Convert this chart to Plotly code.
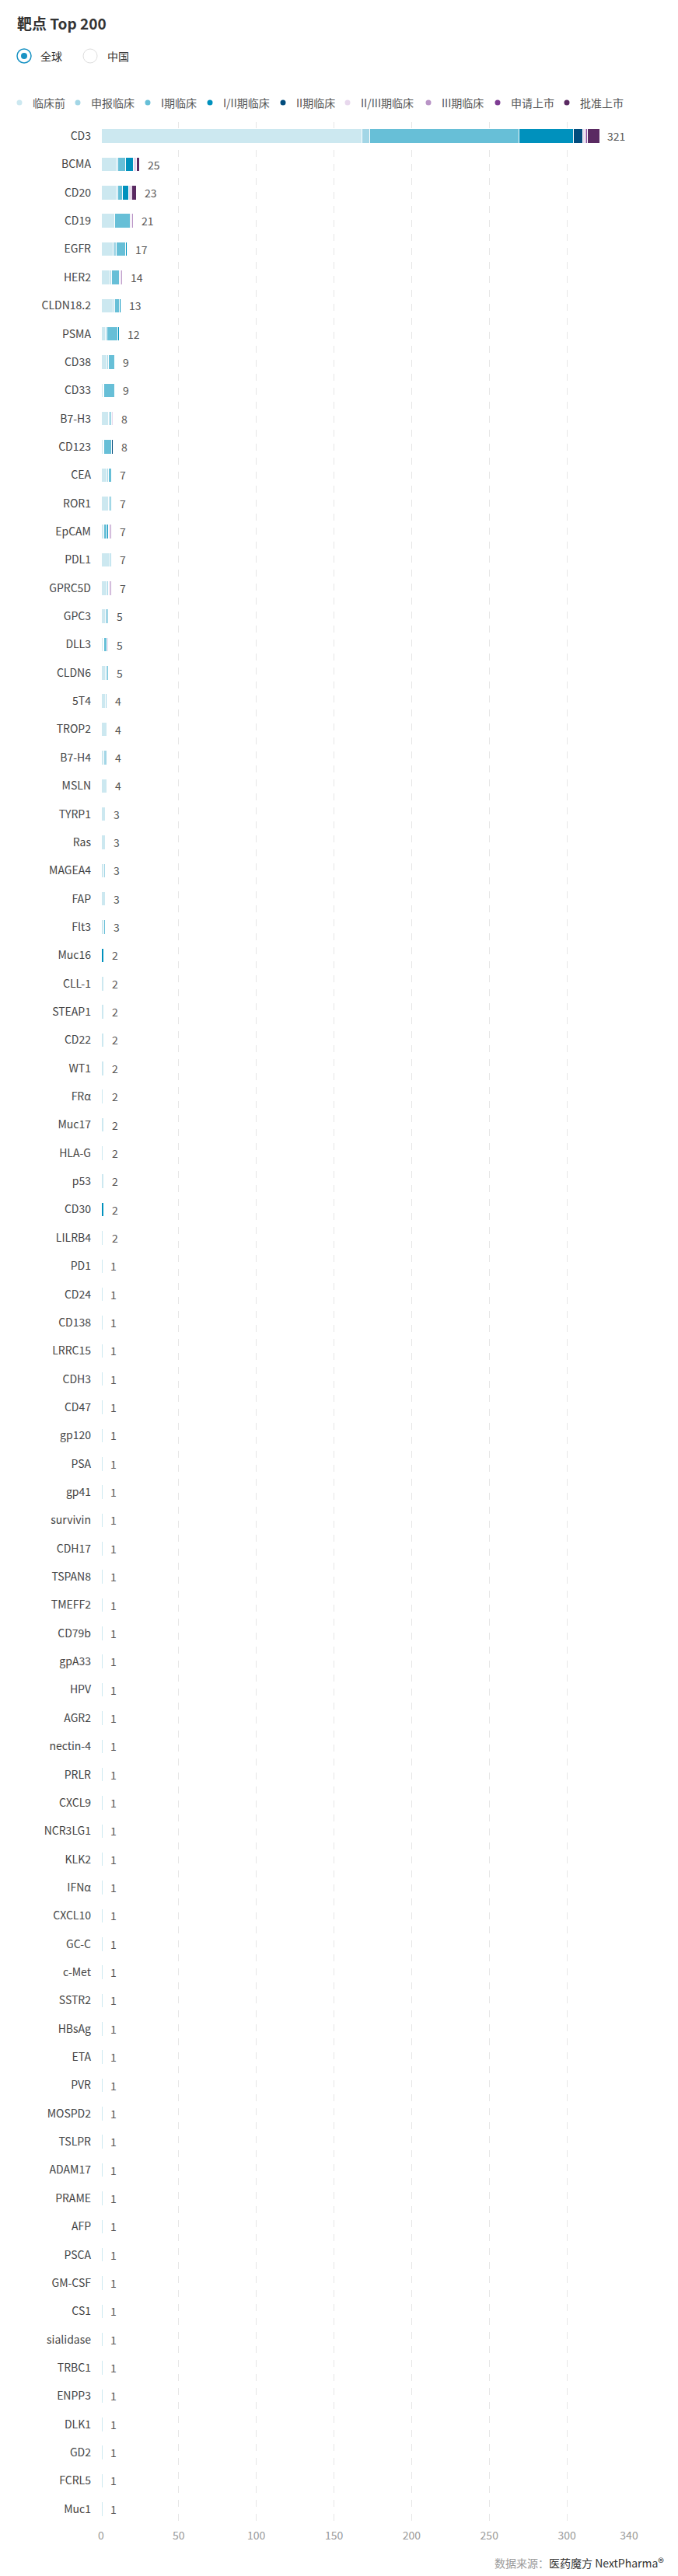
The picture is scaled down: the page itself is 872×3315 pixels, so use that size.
import plotly.graph_objects as go

# targets, top to bottom
targets = ["CD3", "BCMA", "CD20", "CD19", "EGFR", "HER2", "CLDN18.2", "PSMA", "CD38", "CD33",
           "B7-H3", "CD123", "CEA", "ROR1", "EpCAM", "PDL1", "GPRC5D", "GPC3", "DLL3", "CLDN6",
           "5T4", "TROP2", "B7-H4", "MSLN", "TYRP1", "Ras", "MAGEA4", "FAP", "Flt3", "Muc16",
           "CLL-1", "STEAP1", "CD22", "WT1", "FRα", "Muc17", "HLA-G", "p53", "CD30", "LILRB4",
           "PD1", "CD24", "CD138", "LRRC15", "CDH3", "CD47", "gp120", "PSA", "gp41", "survivin",
           "CDH17", "TSPAN8", "TMEFF2", "CD79b", "gpA33", "HPV", "AGR2", "nectin-4", "PRLR", "CXCL9",
           "NCR3LG1", "KLK2", "IFNα", "CXCL10", "GC-C", "c-Met", "SSTR2", "HBsAg", "ETA", "PVR",
           "MOSPD2", "TSLPR", "ADAM17", "PRAME", "AFP", "PSCA", "GM-CSF", "CS1", "sialidase", "TRBC1",
           "ENPP3", "DLK1", "GD2", "FCRL5", "Muc1"]

stages = ["临床前", "申报临床", "I期临床", "I/II期临床", "II期临床",
          "II/III期临床", "III期临床", "申请上市", "批准上市"]
stage_colors = ["#cce8f0", "#a3d6e6", "#67bfd7", "#0091bd", "#024c7d",
                "#e8d8ed", "#b994c6", "#7e3c93", "#5a2a62"]

n_ones = 45  # PD1 ... Muc1 all have a single compound

preclinical = [168, 10, 10, 9, 8, 6, 8, 3, 4, 1,
               5, 1, 4, 5, 2, 6, 4, 3, 1, 3,
               3, 4, 2, 4, 3, 3, 2, 3, 2, 0,
               2, 2, 2, 2, 1, 2, 1, 2, 0, 1] + [1] * n_ones
ind_filed = [5, 1, 1, 0, 2, 1, 1, 1, 1, 1,
             1, 1, 1, 1, 0, 1, 1, 2, 1, 1,
             1, 0, 2, 0, 0, 0, 1, 0, 0, 0,
             0, 0, 0, 0, 1, 0, 1, 0, 0, 1] + [0] * n_ones
phase1 = [96, 5, 3, 10, 6, 5, 3, 7, 4, 7,
          1, 5, 2, 1, 2, 0, 0, 0, 2, 1,
          0, 0, 0, 0, 0, 0, 0, 0, 1, 0,
          0, 0, 0, 0, 0, 0, 0, 0, 0, 0] + [0] * n_ones
phase12 = [35, 5, 4, 0, 1, 0, 1, 1, 0, 0,
           0, 0, 0, 0, 1, 0, 0, 0, 0, 0,
           0, 0, 0, 0, 0, 0, 0, 0, 0, 2,
           0, 0, 0, 0, 0, 0, 0, 0, 2, 0] + [0] * n_ones
phase2 = [6, 0, 0, 0, 0, 0, 0, 0, 0, 0,
          0, 1, 0, 0, 0, 0, 0, 0, 0, 0] + [0] * 20 + [0] * n_ones
phase23 = [1, 2, 1, 1, 0, 1, 0, 0, 0, 0,
           1, 0, 0, 0, 1, 0, 1, 0, 1, 0] + [0] * 20 + [0] * n_ones
phase3 = [1, 0, 1, 1, 0, 1, 0, 0, 0, 0,
          0, 0, 0, 0, 1, 0, 1, 0, 0, 0] + [0] * 20 + [0] * n_ones
nda_filed = [1] + [0] * 39 + [0] * n_ones
approved = [8, 2, 3] + [0] * 37 + [0] * n_ones

series = [preclinical, ind_filed, phase1, phase12, phase2, phase23, phase3, nda_filed, approved]
totals = [sum(v) for v in zip(*series)]

# figure geometry in pixels
W, H = 872, 3315
L, R, T, B = 130, 63, 157, 68
pw, ph = W - L - R, H - T - B


def px(x):
    return (x - L) / pw


def py(y):
    return (H - B - y) / ph


fig = go.Figure()
for name, vals, col in zip(stages, series, stage_colors):
    fig.add_trace(go.Bar(y=targets, x=vals, name=name, orientation="h",
                         marker=dict(color=col, line=dict(color="white", width=1)),
                         showlegend=False))

# totals at bar ends
for t, tot in zip(targets, totals):
    fig.add_annotation(x=tot, y=t, text=str(tot), showarrow=False, xanchor="left",
                       xshift=8, font=dict(size=14, color="#555"))

# title
fig.add_annotation(x=px(20), y=py(30), xref="paper", yref="paper", text="<b>靶点 Top 200</b>",
                   showarrow=False, xanchor="left", yanchor="middle",
                   font=dict(size=19, color="#333"))

# radio buttons 全球 / 中国
shapes = []
shapes.append(dict(type="circle", xref="paper", yref="paper", xsizemode="pixel", ysizemode="pixel",
                   xanchor=px(31), yanchor=py(72), x0=-9, x1=9, y0=-9, y1=9,
                   line=dict(color="#1a93c4", width=1.5), fillcolor="white"))
shapes.append(dict(type="circle", xref="paper", yref="paper", xsizemode="pixel", ysizemode="pixel",
                   xanchor=px(31), yanchor=py(72), x0=-4, x1=4, y0=-4, y1=4,
                   line=dict(width=0), fillcolor="#1a93c4"))
shapes.append(dict(type="circle", xref="paper", yref="paper", xsizemode="pixel", ysizemode="pixel",
                   xanchor=px(116), yanchor=py(72), x0=-9, x1=9, y0=-9, y1=9,
                   line=dict(color="#dddddd", width=1), fillcolor="white"))
fig.add_annotation(x=px(50), y=py(72), xref="paper", yref="paper", text="全球", showarrow=False,
                   xanchor="left", yanchor="middle", font=dict(size=14, color="#333"))
fig.add_annotation(x=px(136), y=py(72), xref="paper", yref="paper", text="中国", showarrow=False,
                   xanchor="left", yanchor="middle", font=dict(size=14, color="#333"))

# legend row with round dots
legend_dots = [25, 100, 190, 270, 364, 447, 551, 640, 729]
for xd, name, col in zip(legend_dots, stages, stage_colors):
    shapes.append(dict(type="circle", xref="paper", yref="paper", xsizemode="pixel",
                       ysizemode="pixel", xanchor=px(xd), yanchor=py(132),
                       x0=-3.5, x1=3.5, y0=-3.5, y1=3.5, line=dict(width=0), fillcolor=col))
    fig.add_annotation(x=px(xd + 15), y=py(132), xref="paper", yref="paper", text=name,
                       showarrow=False, xanchor="left", yanchor="middle",
                       font=dict(size=14, color="#555"))

# data source
fig.add_annotation(x=px(856), y=py(3297), xref="paper", yref="paper",
                   text="<span style='color:#999'>数据来源：</span>医药魔方 NextPharma"
                        "<span style='font-size:16px'>®</span>",
                   showarrow=False, xanchor="right", yanchor="middle",
                   font=dict(size=14, color="#333"))

fig.update_layout(
    width=W, height=H, barmode="stack", bargap=0.49,
    margin=dict(l=L, r=R, t=T, b=B, autoexpand=False),
    plot_bgcolor="white", paper_bgcolor="white",
    font=dict(family="Noto Sans CJK SC, Noto Sans, sans-serif", size=14, color="#333"),
    shapes=shapes,
    xaxis=dict(range=[0, 340], tickvals=[0, 50, 100, 150, 200, 250, 300, 340],
               showgrid=True, gridcolor="#e6e6e6", griddash="dash", gridwidth=1,
               zeroline=False, showline=False, ticks="", ticklabelstandoff=6,
               tickfont=dict(size=14, color="#999"), fixedrange=True),
    yaxis=dict(autorange="reversed", showgrid=False, showline=False, ticks="",
               ticklabelstandoff=12, tickfont=dict(size=14, color="#444"), fixedrange=True),
)

# drop the default page margin so the figure sits at the window's top-left corner
fig.write_html("out.html", config={"displayModeBar": False},
               post_script="document.body.style.margin='0';")
